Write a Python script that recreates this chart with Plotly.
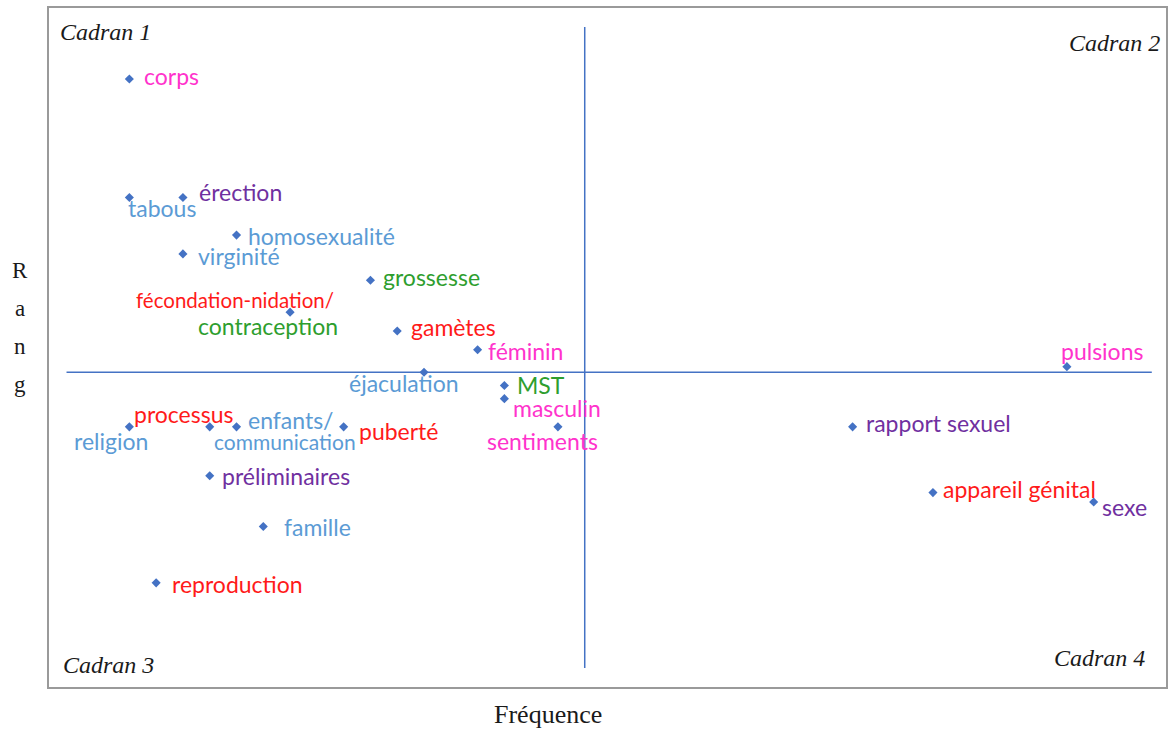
import plotly.graph_objects as go

# Mots évoqués : fréquence d'apparition et rang moyen d'évocation
mots = ["corps", "tabous", "érection", "homosexualité", "virginité", "grossesse",
        "fécondation-nidation/contraception", "gamètes", "féminin", "pulsions",
        "éjaculation", "MST", "masculin", "religion", "processus",
        "enfants/communication", "puberté", "sentiments", "rapport sexuel",
        "préliminaires", "famille", "appareil génital", "sexe", "reproduction"]
frequence = [3, 3, 5, 7, 5, 12, 9, 13, 16, 38, 14, 17, 17, 3, 6, 7, 11, 19, 30,
             6, 8, 33, 39, 4]
rang = [1.00, 1.63, 1.63, 1.83, 1.93, 2.07, 2.24, 2.34, 2.44, 2.53, 2.56, 2.63,
        2.70, 2.85, 2.85, 2.85, 2.85, 2.85, 2.85, 3.11, 3.38, 3.20, 3.25, 3.68]

# Seuils séparant les quatre cadrans
seuil_frequence = 20
seuil_rang = 2.56

cadrans = ["Cadran 1", "Cadran 2", "Cadran 3", "Cadran 4"]

# Couleurs des thèmes
ROSE = "#FF33CC"
VIOLET = "#7030A0"
BLEU = "#5B9BD5"
VERT = "#2E9E2E"
ROUGE = "#FF1A1A"

TAILLE = 23

# Étiquettes : (texte, couleur, ancrage, décalage x, décalage y, taille) ; plusieurs par mot possibles
etiquettes = {
    "corps": [("corps", ROSE, "left", 13, 3, TAILLE)],
    "tabous": [("tabous", BLEU, "left", -3, -11, TAILLE)],
    "érection": [("érection", VIOLET, "left", 14, 5, TAILLE)],
    "homosexualité": [("homosexualité", BLEU, "left", 9, -1, TAILLE)],
    "virginité": [("virginité", BLEU, "left", 13, -2, TAILLE)],
    "grossesse": [("grossesse", VERT, "left", 11, 3, TAILLE)],
    "fécondation-nidation/contraception": [
        ("fécondation-nidation/", ROUGE, "center", -55, 12, 20.5),
        ("contraception", VERT, "center", -22, -14, TAILLE)],
    "gamètes": [("gamètes", ROUGE, "left", 12, 4, TAILLE)],
    "féminin": [("féminin", ROSE, "left", 8, -1, TAILLE)],
    "pulsions": [("pulsions", ROSE, "left", -8, 16, TAILLE)],
    "éjaculation": [("éjaculation", BLEU, "center", -20, -11, TAILLE)],
    "MST": [("MST", VERT, "left", 11, 0, TAILLE)],
    "masculin": [("masculin", ROSE, "left", 7, -9, TAILLE)],
    "religion": [("religion", BLEU, "center", -18, -14, TAILLE)],
    "processus": [("processus", ROUGE, "center", -26, 13, TAILLE)],
    "enfants/communication": [
        ("enfants/", BLEU, "left", 9, 7, TAILLE),
        ("communication", BLEU, "center", 48, -15, 21)],
    "puberté": [("puberté", ROUGE, "left", 13, -4, TAILLE)],
    "sentiments": [("sentiments", ROSE, "center", -15, -14, TAILLE)],
    "rapport sexuel": [("rapport sexuel", VIOLET, "left", 11, 4, TAILLE)],
    "préliminaires": [("préliminaires", VIOLET, "left", 10, 0, TAILLE)],
    "famille": [("famille", BLEU, "left", 19, -1, TAILLE)],
    "appareil génital": [("appareil génital", ROUGE, "left", 8, 4, TAILLE)],
    "sexe": [("sexe", VIOLET, "left", 6, -5, TAILLE)],
    "reproduction": [("reproduction", ROUGE, "left", 14, -1, TAILLE)],
}

X_RANGE = [0, 41.7]
Y_RANGE = [4.234, 0.622]
POLICE = "Lato"
POLICE_SERIF = "Liberation Serif"

fig = go.Figure()
fig.add_trace(go.Scatter(
    x=frequence, y=rang, mode="markers",
    marker=dict(symbol="diamond", size=7, color="#4472C4"),
    hoverinfo="text", text=mots, showlegend=False))

annotations = []
for mot, f, r in zip(mots, frequence, rang):
    for texte, couleur, ancre, dx, dy, taille in etiquettes[mot]:
        annotations.append(dict(
            x=f, y=r, xref="x", yref="y", text=texte, showarrow=False,
            xanchor=ancre, yanchor="middle", xshift=dx, yshift=dy,
            font=dict(family=POLICE, size=taille, color=couleur)))

# Noms des cadrans dans les coins
coins = [(0.008, 0.987, "left", "top"), (0.996, 0.971, "right", "top"),
         (0.011, 0.011, "left", "bottom"), (0.983, 0.021, "right", "bottom")]
for nom, (px, py, xa, ya) in zip(cadrans, coins):
    annotations.append(dict(
        x=px, y=py, xref="paper", yref="paper", text=f"<i>{nom}</i>",
        showarrow=False, xanchor=xa, yanchor=ya,
        font=dict(family=POLICE_SERIF, size=24, color="#1a1a1a")))

# Titres des axes
annotations.append(dict(
    x=0.447, y=-0.041, xref="paper", yref="paper", text="Fréquence",
    showarrow=False, xanchor="center", yanchor="middle",
    font=dict(family=POLICE_SERIF, size=26, color="#1a1a1a")))
for i, lettre in enumerate("Rang"):
    annotations.append(dict(
        x=-0.026, y=0.613 - i * 0.056, xref="paper", yref="paper", text=lettre,
        showarrow=False, xanchor="center", yanchor="middle",
        font=dict(family=POLICE_SERIF, size=23, color="#1a1a1a")))

# Droites de séparation des cadrans
lignes = [
    dict(type="line", xref="x", yref="y", x0=seuil_frequence, x1=seuil_frequence,
         y0=0.723, y1=4.133, line=dict(color="#4472C4", width=1.5)),
    dict(type="line", xref="x", yref="y", x0=0.654, x1=41.17,
         y0=seuil_rang, y1=seuil_rang, line=dict(color="#4472C4", width=1.5)),
]

fig.update_layout(
    width=1169, height=729,
    margin=dict(l=49, r=1, t=8, b=42),
    paper_bgcolor="white", plot_bgcolor="white",
    annotations=annotations, shapes=lignes,
    xaxis=dict(range=X_RANGE, showgrid=False, zeroline=False, showticklabels=False,
               ticks="", showline=True, mirror=True, linecolor="#9a9a9a", linewidth=1.5),
    yaxis=dict(range=Y_RANGE, showgrid=False, zeroline=False, showticklabels=False,
               ticks="", showline=True, mirror=True, linecolor="#9a9a9a", linewidth=1.5),
)

fig.write_html("out.html")
